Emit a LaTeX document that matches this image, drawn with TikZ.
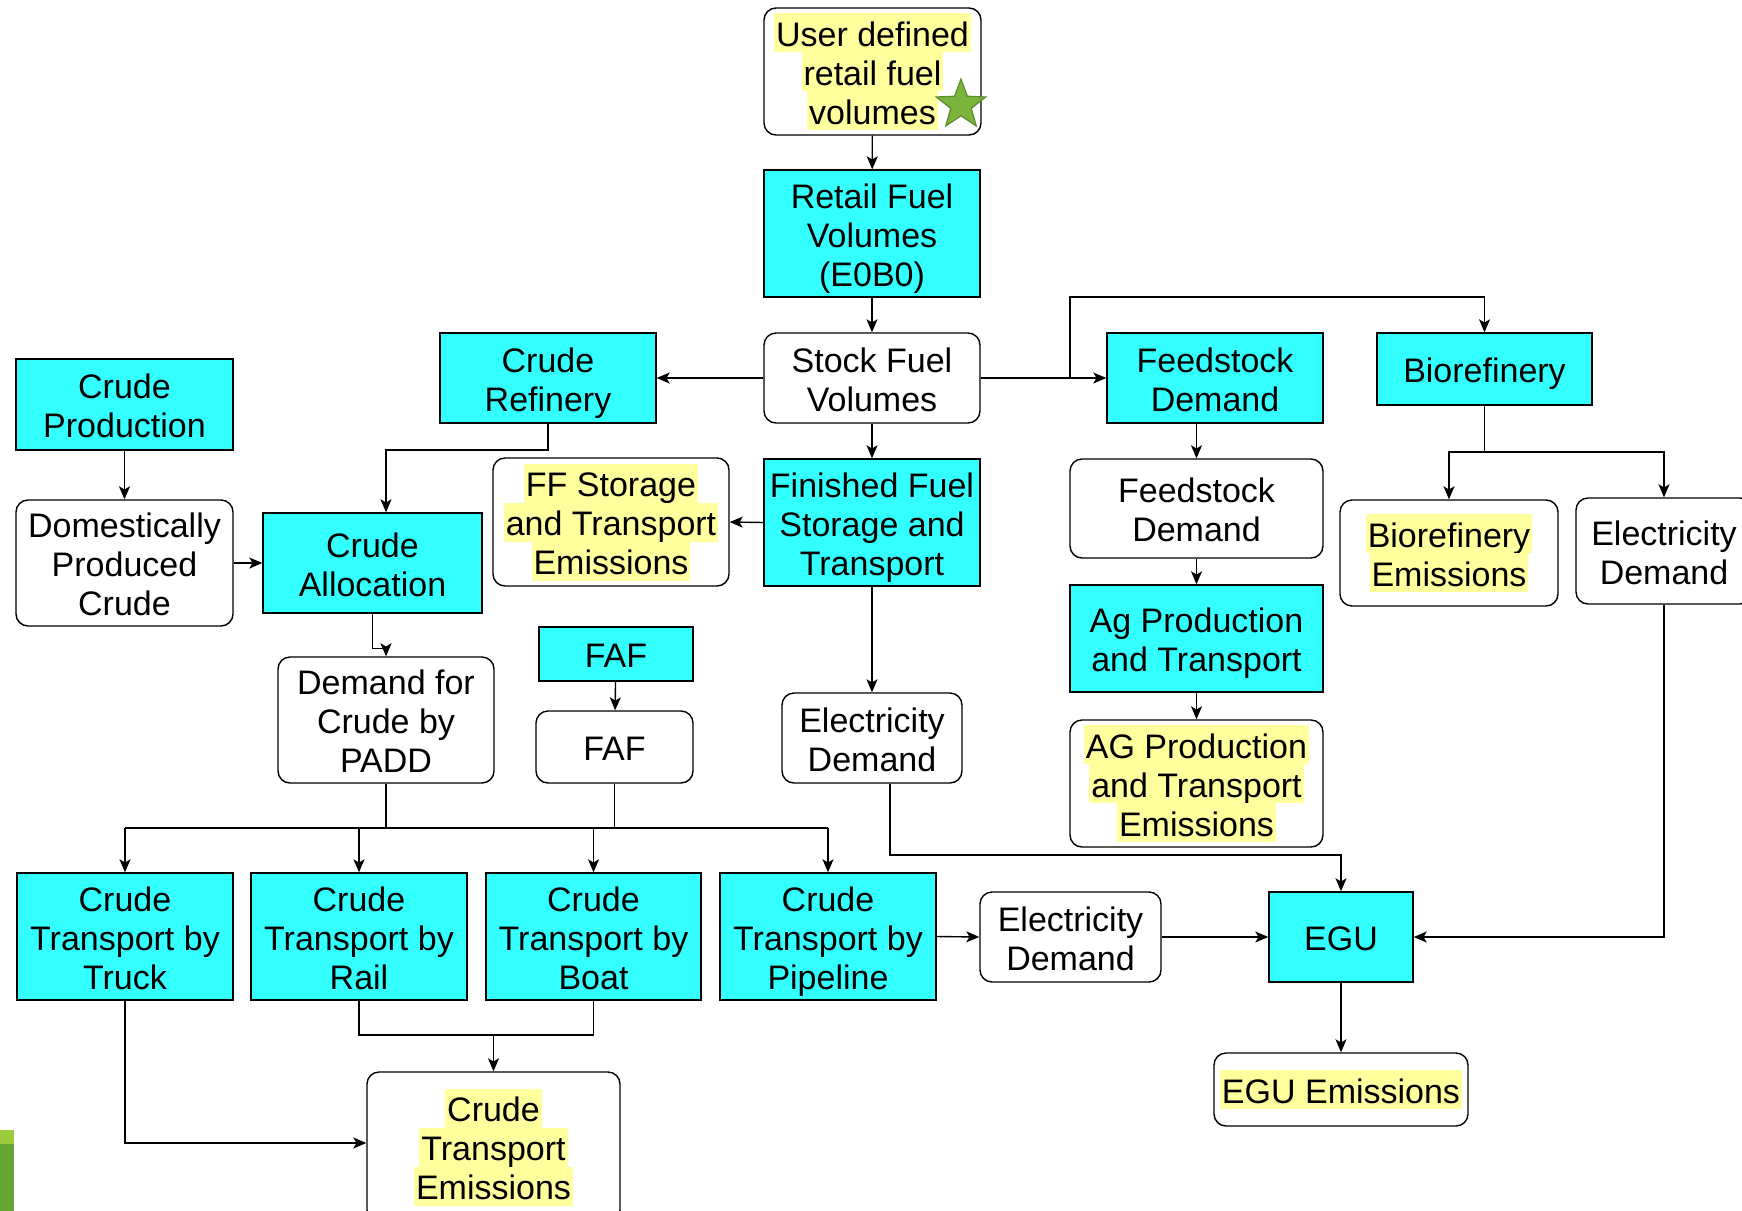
\documentclass[tikz,border=0pt]{standalone}
\usepackage{fontspec}
\setmainfont{Liberation Sans}
\usetikzlibrary{arrows.meta,shapes.geometric}
\definecolor{cyanbox}{HTML}{33FFFF}
\definecolor{hly}{HTML}{FFFF9E}
\definecolor{stargreen}{HTML}{7BB33D}
\definecolor{stardark}{HTML}{5B8C2C}
\definecolor{barlight}{HTML}{9BCB3C}
\definecolor{bardark}{HTML}{64A536}
% one line of text with a uniform line box
\newcommand\Ls[1]{\rule[-3pt]{0pt}{19.5pt}\smash{#1}}
% highlighted line of text
\newcommand\hlt[1]{{\setlength\fboxsep{0pt}\colorbox{hly}{\rule[-3pt]{0pt}{19.5pt}\hspace{1pt}\smash{#1}\hspace{1pt}}}}
% box given by its corners: name, style, x1, y1, x2, y2, text
\newcommand\bx[7]{\node[#2, minimum width={(#5-#3)*0.5pt}, minimum height={(#6-#4)*0.5pt}] (#1) at ({(#3+#5)/2},{(#4+#6)/2}) {#7};}

\begin{document}
\begin{tikzpicture}[x=0.5pt,y=-0.5pt, font=\fontsize{17}{19.5}\selectfont,
  base/.style={draw=black, line width=0.7pt, inner sep=0pt, align=center},
  proc/.style={base, fill=cyanbox},
  data/.style={base, fill=white, rounded corners=6pt},
  arr/.style={line width=0.7pt, -{Stealth[length=6.5pt,width=5.5pt,inset=1.6pt]}},
  ln/.style={line width=0.7pt}]
\clip (0,0) rectangle (1742,1211);
\fill[white] (0,0) rectangle (1742,1211);

% central column
\bx{user}{data}{764}{8}{981}{135}{\hlt{User defined}\\\hlt{retail fuel}\\\hlt{volumes}}
\bx{retail}{proc}{764}{170}{980}{297}{\Ls{Retail Fuel}\\\Ls{Volumes}\\\Ls{(E0B0)}}
\bx{stock}{data}{764}{333}{980}{423}{\Ls{Stock Fuel}\\\Ls{Volumes}}
\bx{finished}{proc}{764}{459}{980}{586}{\Ls{Finished Fuel}\\\Ls{Storage and}\\\Ls{Transport}}
\bx{elecA}{data}{782}{693}{962}{783}{\Ls{Electricity}\\\Ls{Demand}}

% crude side
\bx{refinery}{proc}{440}{333}{656}{423}{\Ls{Crude}\\\Ls{Refinery}}
\bx{ffem}{data}{493}{458}{729}{586}{\hlt{FF Storage}\\\hlt{and Transport}\\\hlt{Emissions}}
\bx{cprod}{proc}{16}{359}{233}{450}{\Ls{Crude}\\\Ls{Production}}
\bx{dom}{data}{16}{500}{233}{626}{\Ls{Domestically}\\\Ls{Produced}\\\Ls{Crude}}
\bx{alloc}{proc}{263}{513}{482}{613}{\Ls{Crude}\\\Ls{Allocation}}
\bx{padd}{data}{278}{657}{494}{783}{\Ls{Demand for}\\\Ls{Crude by}\\\Ls{PADD}}
\bx{fafA}{proc}{539}{627}{693}{681}{\Ls{FAF}}
\bx{fafB}{data}{536}{711}{693}{783}{\Ls{FAF}}

% transport modes
\bx{truck}{proc}{17}{873}{233}{1000}{\Ls{Crude}\\\Ls{Transport by}\\\Ls{Truck}}
\bx{rail}{proc}{251}{873}{467}{1000}{\Ls{Crude}\\\Ls{Transport by}\\\Ls{Rail}}
\bx{boat}{proc}{486}{873}{701}{1000}{\Ls{Crude}\\\Ls{Transport by}\\\Ls{Boat}}
\bx{pipe}{proc}{720}{873}{936}{1000}{\Ls{Crude}\\\Ls{Transport by}\\\Ls{Pipeline}}
\bx{cte}{data}{367}{1072}{620}{1222}{\hlt{Crude}\\\hlt{Transport}\\\hlt{Emissions}}

% feedstock and biorefinery side
\bx{feedA}{proc}{1107}{333}{1323}{423}{\Ls{Feedstock}\\\Ls{Demand}}
\bx{bio}{proc}{1377}{333}{1592}{405}{\Ls{Biorefinery}}
\bx{feedB}{data}{1070}{459}{1323}{558}{\Ls{Feedstock}\\\Ls{Demand}}
\bx{ag}{proc}{1070}{585}{1323}{692}{\Ls{Ag Production}\\\Ls{and Transport}}
\bx{agem}{data}{1070}{720}{1323}{847}{\hlt{AG Production}\\\hlt{and Transport}\\\hlt{Emissions}}
\bx{bioem}{data}{1340}{500}{1558}{606}{\hlt{Biorefinery}\\\hlt{Emissions}}
\bx{elecC}{data}{1576}{498}{1752}{604}{\Ls{Electricity}\\\Ls{Demand}}

% power generation
\bx{elecB}{data}{980}{892}{1161}{982}{\Ls{Electricity}\\\Ls{Demand}}
\bx{egu}{proc}{1269}{892}{1413}{982}{\Ls{EGU}}
\bx{eguem}{data}{1214}{1053}{1468}{1126}{\hlt{EGU Emissions}}

% star marker on the input box
\node[star, star points=5, star point ratio=2.4, inner sep=0pt, minimum size=26pt,
      fill=stargreen, draw=stardark, line width=0.6pt] (starmark) at (961,105) {};

% junction levels
\coordinate (jFeed) at (1070,297);
\coordinate (jRef) at (386,450);
\coordinate (jBio) at (0,452);
\coordinate (bus) at (0,828);
\coordinate (jElec) at (0,855);
\coordinate (jRB) at (0,1035);

% connectors
\draw[arr] (user) -- (retail);
\draw[arr] (retail) -- (stock);
\draw[arr] (stock.west) -- (refinery.east);
\draw[arr] (stock) -- (finished);
\draw[arr] (stock.east) -- (feedA.west);
\draw[arr] (stock.east) -| (jFeed) -| (bio.north);
\draw[arr] (finished.west) -- (ffem.east);
\draw[arr] (finished) -- (elecA);

\draw[arr] (refinery.south) |- (jRef) -- (jRef |- alloc.north);
\draw[arr] (cprod) -- (dom);
\draw[arr] (dom.east) -- (alloc.west);
\draw[arr] (alloc.south) -- ++(0,35) -| (padd.north);
\draw[arr] (fafA) -- (fafB);

\draw[ln] (padd.south) -- (padd.south |- bus);
\draw[ln] (fafB.south) -- (fafB.south |- bus);
\draw[ln] (truck.north |- bus) -- (pipe.north |- bus);
\draw[arr] (truck.north |- bus) -- (truck.north);
\draw[arr] (rail.north |- bus) -- (rail.north);
\draw[arr] (boat.north |- bus) -- (boat.north);
\draw[arr] (pipe.north |- bus) -- (pipe.north);

\draw[ln] (rail.south) |- (boat.south |- jRB) -- (boat.south);
\draw[arr] (cte.north |- jRB) -- (cte.north);
\draw[arr] (truck.south) |- ([yshift=2pt]cte.west);

\draw[arr] (pipe.east) -- (elecB.west);
\draw[arr] (elecB.east) -- (egu.west);
\coordinate (eAs) at ([xshift=9pt]elecA.south);
\draw[arr] (eAs) |- (egu.north |- jElec) -- (egu.north);
\draw[arr] (elecC.south) |- (egu.east);
\draw[arr] (egu) -- (eguem);

\draw[arr] (feedA.south -| feedB.north) -- (feedB.north);
\draw[arr] (feedB) -- (ag);
\draw[arr] (ag) -- (agem);
\draw[arr] (bio.south) |- (bioem.north |- jBio) -- (bioem.north);
\draw[arr] (bio.south) |- (elecC.north |- jBio) -- (elecC.north);

% corner bar
\fill[barlight] (0,1130) rectangle (14,1144);
\fill[bardark] (0,1144) rectangle (14,1211);
\end{tikzpicture}
\end{document}
